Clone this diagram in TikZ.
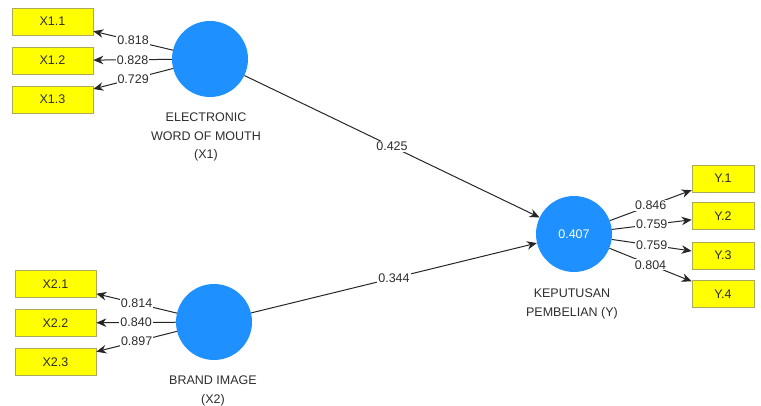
\documentclass[tikz,border=0pt]{standalone}
\usepackage{fontspec}
\setmainfont{Liberation Sans}
\usetikzlibrary{arrows.meta}
\definecolor{lvblue}{RGB}{30,144,255}
\definecolor{mvyellow}{RGB}{255,255,0}
\definecolor{mvborder}{RGB}{170,170,90}
\definecolor{txtgray}{RGB}{45,45,45}
\begin{document}
\begin{tikzpicture}[x=1pt,y=-1pt,
  every node/.style={font=\fontsize{12.5}{18.5}\selectfont, text=txtgray},
  latent/.style={circle, fill=lvblue, minimum size=76pt, inner sep=0pt},
  indicator/.style={rectangle, fill=mvyellow, draw=mvborder, line width=0.7pt, minimum width=81pt, minimum height=27pt, inner sep=0pt},
  conn/.style={draw=black!85, line width=1pt, -{Stealth[length=10pt,width=8.5pt]}},
  wlabel/.style={fill=white, inner sep=1pt, pos=0.5},
  caption/.style={align=center}
]
\useasboundingbox (0,0) rectangle (761,406);
% latent variables
\node[latent] (X1) at (210,59) {};
\node[latent] (X2) at (214,322) {};
\node[latent] (Y) at (574,234) {\textcolor{white}{0.407}};
% captions
\node[caption] (cX1) at (206,137) {ELECTRONIC\\WORD OF MOUTH\\(X1)};
\node[caption] (cX2) at (213,391) {BRAND IMAGE\\(X2)};
\node[caption] (cY) at (572,304) {KEPUTUSAN\\PEMBELIAN (Y)};
% indicators
\node[indicator] (x11) at (52.5,21.5) {X1.1};
\node[indicator] (x12) at (52.5,60.5) {X1.2};
\node[indicator] (x13) at (52.5,99.5) {X1.3};
\node[indicator] (x21) at (55.5,284) {X2.1};
\node[indicator] (x22) at (55.5,323) {X2.2};
\node[indicator] (x23) at (55.5,362) {X2.3};
\node[indicator, minimum width=62pt] (y1) at (723,178.5) {Y.1};
\node[indicator, minimum width=62pt] (y2) at (723,216) {Y.2};
\node[indicator, minimum width=62pt] (y3) at (723,255.5) {Y.3};
\node[indicator, minimum width=62pt] (y4) at (723,294) {Y.4};
% loadings
\path[conn] (X1) -- node[wlabel] {0.818} (x11);
\path[conn] (X1) -- node[wlabel] {0.828} (x12);
\path[conn] (X1) -- node[wlabel] {0.729} (x13);
\path[conn] (X2) -- node[wlabel] {0.814} (x21);
\path[conn] (X2) -- node[wlabel] {0.840} (x22);
\path[conn] (X2) -- node[wlabel] {0.897} (x23);
\path[conn] (Y) -- node[wlabel] {0.846} (y1);
\path[conn] (Y) -- node[wlabel] {0.759} (y2);
\path[conn] (Y) -- node[wlabel] {0.759} (y3);
\path[conn] (Y) -- node[wlabel] {0.804} (y4);
% paths
\path[conn] (X1) -- node[wlabel] {0.425} (Y);
\path[conn] (X2) -- node[wlabel] {0.344} (Y);
\end{tikzpicture}
\end{document}
